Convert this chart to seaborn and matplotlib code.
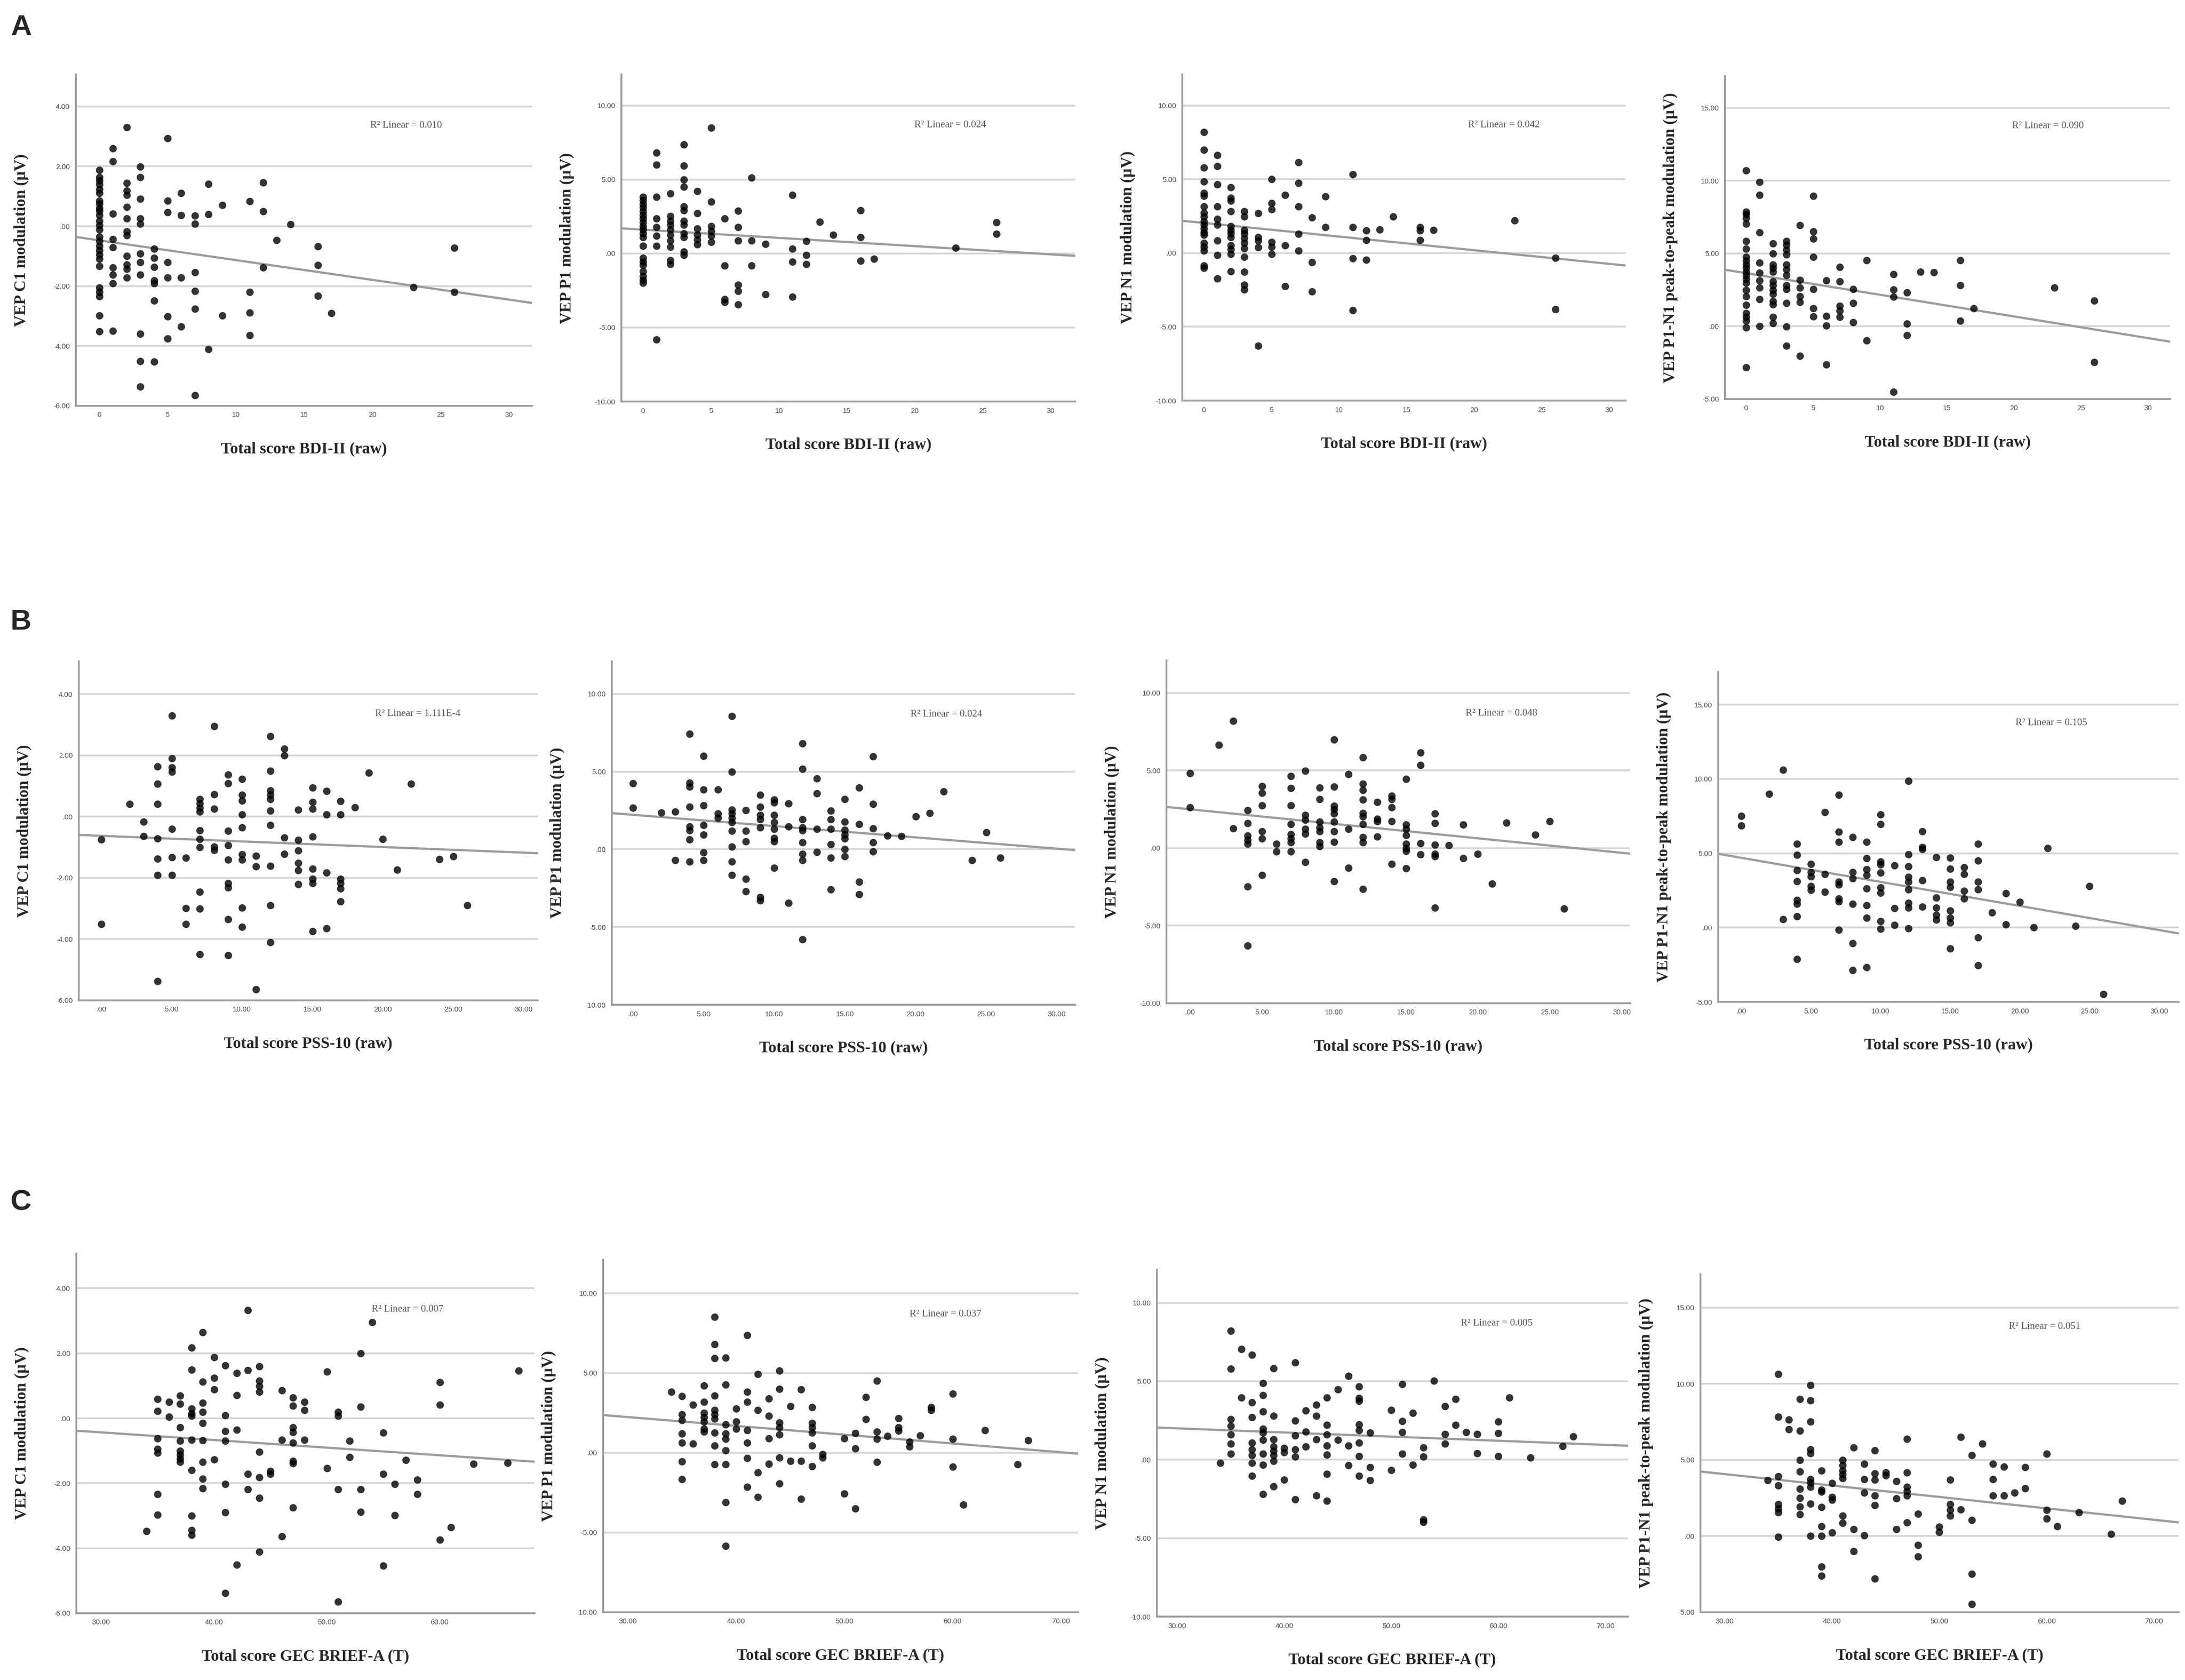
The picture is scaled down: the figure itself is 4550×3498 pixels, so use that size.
import matplotlib
matplotlib.use("Agg")

import matplotlib.pyplot as plt
import seaborn as sns
import pandas as pd

# ---- data: (score, modulation) per panel ----
bdi_c1 = [
    (0, 1.87), (0, 1.63), (0, 1.53), (0, 1.39), (0, 1.24), (0, 1.10), (0, 0.85), (0, 0.76), (0, 0.61),
    (0, 0.51), (0, 0.37), (0, 0.17), (0, 0.03), (0, -0.12), (0, -0.36), (0, -0.50), (0, -0.65), (0, -0.80),
    (0, -0.94), (0, -1.09), (0, -1.33), (0, -2.06), (0, -2.20), (0, -2.35), (0, -2.98), (0, -3.51),
    (1, 2.60), (1, 2.17), (1, 0.42), (1, -0.43), (1, -0.70), (1, -1.38), (1, -1.62), (1, -1.91), (1, -3.50),
    (2, 3.30), (2, 1.44), (2, 1.19), (2, 1.05), (2, 0.64), (2, 0.25), (2, -0.17), (2, -0.31), (2, -0.99),
    (2, -1.28), (2, -1.43), (2, -1.72),
    (3, 1.99), (3, 1.63), (3, 0.92), (3, 0.25), (3, 0.08), (3, -0.92), (3, -1.20), (3, -1.62), (3, -3.59),
    (3, -4.50), (3, -5.36),
    (4, -0.75), (4, -1.06), (4, -1.36), (4, -1.82), (4, -1.91), (4, -2.48), (4, -4.53),
    (5, 2.93), (5, 0.85), (5, 0.47), (5, -1.20), (5, -1.72), (5, -3.01), (5, -3.76),
    (6, 1.10), (6, 0.37), (6, -1.72), (6, -3.35),
    (7, 0.35), (7, 0.08), (7, -1.54), (7, -2.17), (7, -2.76), (7, -5.65),
    (8, 1.42), (8, 0.40), (8, -4.10), (9, 0.70), (9, -2.98),
    (11, 0.83), (11, -2.20), (11, -2.88), (11, -3.64), (12, 1.46), (12, 0.50), (12, -1.38),
    (13, -0.47), (14, 0.06), (16, -0.68), (16, -1.30), (16, -2.33), (17, -2.90),
    (23, -2.04), (26, -0.72), (26, -2.20),
]
bdi_p1 = [
    (0, 3.84), (0, 3.59), (0, 3.34), (0, 3.10), (0, 2.85), (0, 2.60), (0, 2.35), (0, 2.10), (0, 1.85),
    (0, 1.61), (0, 1.36), (0, 1.11), (0, 0.53), (0, -0.30), (0, -0.55), (0, -0.79), (0, -1.21), (0, -1.54),
    (0, -1.79), (0, -1.99),
    (1, 6.82), (1, 5.99), (1, 3.84), (1, 2.35), (1, 1.77), (1, 1.19), (1, 0.53), (1, -5.81),
    (2, 4.06), (2, 2.52), (2, 2.19), (2, 1.94), (2, 1.61), (2, 1.27), (2, 0.86), (2, 0.45), (2, -0.46), (2, -0.71),
    (3, 7.35), (3, 5.94), (3, 5.00), (3, 4.50), (3, 3.18), (3, 2.93), (3, 2.19), (3, 1.94), (3, 1.36),
    (3, 1.11), (3, 0.12), (3, -0.10),
    (4, 4.22), (4, 2.72), (4, 1.69), (4, 1.27), (4, 0.94), (4, 0.61),
    (5, 8.51), (5, 3.51), (5, 1.85), (5, 1.52), (5, 1.19), (5, 0.78),
    (6, 2.35), (6, -0.83), (6, -3.08), (6, -3.28),
    (7, 2.88), (7, 1.77), (7, 0.86), (7, -2.12), (7, -2.53), (7, -3.44),
    (8, 5.13), (8, 0.86), (8, -0.83), (9, 0.65), (9, -2.75),
    (11, 3.96), (11, 0.33), (11, -0.55), (11, -2.91), (12, 0.83), (12, -0.10), (12, -0.71),
    (13, 2.15), (14, 1.27), (16, 2.90), (16, 1.09), (16, -0.50), (17, -0.35),
    (23, 0.40), (26, 2.10), (26, 1.31),
]
bdi_n1 = [
    (0, 8.18), (0, 6.98), (0, 5.79), (0, 4.83), (0, 4.05), (0, 3.88), (0, 3.14), (0, 2.73), (0, 2.48),
    (0, 2.15), (0, 1.90), (0, 1.65), (0, 1.40), (0, 1.24), (0, 0.66), (0, 0.41), (0, 0.17), (0, -0.86), (0, -1.02),
    (1, 6.64), (1, 5.87), (1, 4.66), (1, 3.14), (1, 2.31), (1, 1.90), (1, 0.83), (1, -0.13), (1, -1.74),
    (2, 4.46), (2, 3.72), (2, 3.55), (2, 2.81), (2, 1.82), (2, 1.57), (2, 1.32), (2, 1.07), (2, 0.50),
    (2, 0.25), (2, -0.08), (2, -1.24),
    (3, 2.81), (3, 2.48), (3, 1.57), (3, 1.32), (3, 0.99), (3, 0.66), (3, 0.33), (3, -0.28), (3, -1.29),
    (3, -2.15), (3, -2.48),
    (4, 2.69), (4, 1.07), (4, 0.83), (4, 0.38), (4, -6.28),
    (5, 5.01), (5, 3.39), (5, 2.94), (5, 0.74), (5, 0.41), (5, -0.08),
    (6, 3.92), (6, 0.50), (6, -2.26),
    (7, 6.15), (7, 4.76), (7, 3.14), (7, 1.29), (7, 0.17),
    (8, 2.40), (8, -0.63), (8, -2.60), (9, 3.83), (9, 1.74),
    (11, 5.32), (11, 1.74), (11, -0.38), (11, -3.88), (12, 1.52), (12, 0.86), (12, -0.46),
    (13, 1.60), (14, 2.45), (16, 1.74), (16, 1.52), (16, 0.88), (17, 1.57),
    (23, 2.20), (26, -0.33), (26, -3.80),
]
bdi_p1n1 = [
    (0, 10.69), (0, 7.87), (0, 7.70), (0, 7.45), (0, 7.03), (0, 5.85), (0, 5.34), (0, 4.76), (0, 4.50),
    (0, 4.25), (0, 4.00), (0, 3.75), (0, 3.50), (0, 3.24), (0, 2.99), (0, 2.49), (0, 2.07), (0, 1.48),
    (0, 0.89), (0, 0.64), (0, 0.39), (0, -0.08), (0, -2.81),
    (1, 9.92), (1, 9.01), (1, 6.44), (1, 4.37), (1, 3.66), (1, 3.16), (1, 2.66), (1, 1.85), (1, 0.00),
    (2, 5.68), (2, 5.01), (2, 4.25), (2, 4.00), (2, 3.75), (2, 3.08), (2, 2.82), (2, 2.49), (2, 2.24),
    (2, 1.73), (2, 1.51), (2, 0.64), (2, 0.22),
    (3, 5.85), (3, 5.60), (3, 5.26), (3, 4.92), (3, 4.25), (3, 3.92), (3, 3.50), (3, 2.82), (3, 2.57),
    (3, 1.61), (3, -0.03), (3, -1.34),
    (4, 6.94), (4, 3.19), (4, 2.66), (4, 2.07), (4, 1.65), (4, -2.02),
    (5, 8.96), (5, 6.52), (5, 6.02), (5, 4.76), (5, 2.57), (5, 1.23), (5, 0.67),
    (6, 3.16), (6, 0.72), (6, 0.05), (6, -2.61),
    (7, 4.08), (7, 3.08), (7, 1.39), (7, 1.06), (7, 0.64),
    (8, 2.57), (8, 1.61), (8, 0.27), (9, 4.54), (9, -0.96),
    (11, 3.58), (11, 2.52), (11, 2.02), (11, -4.49), (12, 2.32), (12, 0.17), (12, -0.62),
    (13, 3.75), (14, 3.70), (16, 4.54), (16, 2.82), (16, 0.39), (17, 1.23),
    (23, 2.66), (26, 1.76), (26, -2.47),
]

pss_c1 = [
    (0, -0.74), (0, -3.51), (2, 0.41), (3, -0.16), (3, -0.64),
    (4, 1.63), (4, 1.07), (4, 0.41), (4, -0.71), (4, -1.37), (4, -1.90), (4, -5.37),
    (5, 3.30), (5, 1.90), (5, 1.61), (5, 1.47), (5, -0.41), (5, -1.33), (5, -1.90),
    (6, -1.35), (6, -2.99), (6, -3.51),
    (7, 0.57), (7, 0.43), (7, 0.28), (7, 0.16), (7, -0.45), (7, -0.73), (7, -1.00), (7, -2.46), (7, -3.00), (7, -4.50),
    (8, 2.96), (8, 0.73), (8, 0.26), (8, -0.98), (8, -1.09),
    (9, 1.37), (9, 1.09), (9, -0.47), (9, -0.93), (9, -1.40), (9, -2.18), (9, -2.32), (9, -3.35), (9, -4.53),
    (10, 1.23), (10, 0.71), (10, 0.52), (10, 0.07), (10, -0.35), (10, -1.23), (10, -1.40), (10, -2.97), (10, -3.60),
    (11, -1.28), (11, -1.63), (11, -5.64),
    (12, 2.63), (12, 1.49), (12, 0.85), (12, 0.71), (12, 0.57), (12, 0.19), (12, -0.28), (12, -1.61),
    (12, -2.89), (12, -4.10),
    (13, 2.21), (13, 1.99), (13, -0.69), (13, -1.21),
    (14, 0.22), (14, -0.76), (14, -1.11), (14, -1.52), (14, -1.75), (14, -2.20),
    (15, 0.95), (15, 0.47), (15, 0.26), (15, -0.66), (15, -1.71), (15, -2.04), (15, -2.18), (15, -3.74),
    (16, 0.83), (16, 0.07), (16, -1.83), (16, -3.65),
    (17, 0.50), (17, 0.07), (17, -2.04), (17, -2.18), (17, -2.35), (17, -2.77),
    (18, 0.31), (19, 1.44), (20, -0.73), (21, -1.73), (22, 1.07), (24, -1.39), (25, -1.30), (26, -2.89),
]
pss_p1 = [
    (0, 4.25), (0, 2.68), (2, 2.36), (3, 2.41), (3, -0.70),
    (4, 7.43), (4, 4.29), (4, 4.04), (4, 2.73), (4, 1.48), (4, 1.21), (4, 0.64), (4, -0.80),
    (5, 6.00), (5, 3.84), (5, 2.82), (5, 1.57), (5, 0.95), (5, -0.21), (5, -0.70),
    (6, 3.86), (6, 2.29), (6, 2.02),
    (7, 8.57), (7, 5.00), (7, 2.55), (7, 2.29), (7, 2.02), (7, 1.75), (7, 1.18), (7, 0.18), (7, -0.79), (7, -1.64),
    (8, 2.52), (8, 1.18), (8, 0.50), (8, -1.91), (8, -2.71),
    (9, 3.50), (9, 2.73), (9, 2.20), (9, 1.93), (9, 1.39), (9, -3.07), (9, -3.29),
    (10, 3.21), (10, 3.00), (10, 2.20), (10, 1.75), (10, 1.30), (10, 0.71), (10, 0.50), (10, -1.20),
    (11, 2.96), (11, 1.48), (11, -3.46),
    (12, 6.80), (12, 5.18), (12, 1.93), (12, 1.39), (12, 1.21), (12, 0.45), (12, -0.30), (12, -0.71), (12, -5.80),
    (13, 4.55), (13, 3.59), (13, 1.30), (13, -0.18),
    (14, 2.50), (14, 1.93), (14, 1.30), (14, 0.32), (14, -0.54), (14, -2.57),
    (15, 3.23), (15, 1.79), (15, 1.25), (15, 0.95), (15, 0.68), (15, 0.00), (15, -0.45),
    (16, 3.98), (16, 1.63), (16, -2.09), (16, -2.89),
    (17, 5.98), (17, 2.91), (17, 1.34), (17, 0.45), (17, -0.13),
    (18, 0.89), (19, 0.86), (20, 2.11), (21, 2.32), (22, 3.71), (24, -0.71), (25, 1.09), (26, -0.54),
]
pss_n1 = [
    (0, 4.84), (0, 2.63), (2, 6.64), (3, 8.19), (3, 1.28),
    (4, 2.44), (4, 1.60), (4, 0.80), (4, 0.53), (4, 0.27), (4, -2.49), (4, -6.28),
    (5, 4.00), (5, 3.56), (5, 2.76), (5, 1.07), (5, 0.62), (5, -1.73),
    (6, 0.27), (6, -0.23),
    (7, 4.63), (7, 3.88), (7, 2.76), (7, 1.55), (7, 0.89), (7, 0.62), (7, 0.36), (7, -0.23),
    (8, 4.98), (8, 2.14), (8, 1.83), (8, 1.25), (8, 0.94), (8, -0.89),
    (9, 3.91), (9, 3.15), (9, 1.69), (9, 1.33), (9, 1.07), (9, 0.36), (9, 0.12),
    (10, 6.99), (10, 3.95), (10, 2.72), (10, 2.49), (10, 2.22), (10, 1.69), (10, 1.07), (10, 0.39), (10, -2.14),
    (11, 4.75), (11, 1.25), (11, -1.28),
    (12, 5.84), (12, 4.13), (12, 3.74), (12, 3.11), (12, 2.26), (12, 2.05), (12, 1.55), (12, 0.71),
    (12, 0.36), (12, -2.62),
    (13, 2.97), (13, 1.90), (13, 1.73), (13, 0.75),
    (14, 3.38), (14, 3.15), (14, 2.62), (14, 1.74), (14, -1.03),
    (15, 4.45), (15, 1.51), (15, 1.25), (15, 0.84), (15, 0.27), (15, 0.00), (15, -0.18), (15, -1.30),
    (16, 6.17), (16, 5.34), (16, 0.32), (16, -0.41),
    (17, 2.22), (17, 1.60), (17, 0.21), (17, -0.36), (17, -0.53), (17, -3.83),
    (18, 0.18), (19, 1.51), (19, -0.66), (20, -0.36), (21, -2.28), (22, 1.65), (24, 0.85), (25, 1.74), (26, -3.91),
]
pss_p1n1 = [
    (0, 7.52), (0, 6.87), (2, 8.98), (3, 10.60), (3, 0.56),
    (4, 5.63), (4, 4.89), (4, 3.84), (4, 3.12), (4, 1.85), (4, 1.58), (4, 0.74), (4, -2.11),
    (5, 4.28), (5, 3.73), (5, 3.43), (5, 2.78), (5, 2.52),
    (6, 7.78), (6, 3.61), (6, 2.41),
    (7, 8.93), (7, 6.43), (7, 5.77), (7, 3.08), (7, 2.90), (7, 1.94), (7, 1.76), (7, -0.14),
    (8, 6.07), (8, 3.73), (8, 3.29), (8, 1.58), (8, -1.06), (8, -2.87),
    (9, 5.77), (9, 4.67), (9, 3.91), (9, 3.52), (9, 2.64), (9, 1.50), (9, 0.65), (9, -2.68),
    (10, 7.61), (10, 6.95), (10, 4.44), (10, 4.23), (10, 3.70), (10, 2.69), (10, 2.34), (10, 0.44), (10, -0.09),
    (11, 4.19), (11, 1.29), (11, 0.18),
    (12, 9.86), (12, 4.93), (12, 4.10), (12, 3.40), (12, 3.08), (12, 2.55), (12, 1.67), (12, 1.32), (12, -0.04),
    (13, 6.46), (13, 5.42), (13, 5.28), (13, 3.17), (13, 1.41),
    (14, 4.72), (14, 2.02), (14, 1.32), (14, 0.85), (14, 0.53),
    (15, 4.70), (15, 3.96), (15, 3.08), (15, 2.73), (15, 1.14), (15, 0.65), (15, 0.32), (15, -1.41),
    (16, 4.05), (16, 3.61), (16, 2.46), (16, 1.94),
    (17, 5.63), (17, 4.49), (17, 3.08), (17, 2.55), (17, -0.67), (17, -2.55),
    (18, 1.02), (19, 2.29), (19, 0.21), (20, 1.73), (21, 0.00), (22, 5.35), (24, 0.09), (25, 2.78), (26, -4.49),
]

gec_c1 = [
    (34, -3.48),
    (35, 0.59), (35, 0.22), (35, -0.62), (35, -0.94), (35, -1.07), (35, -2.33), (35, -2.97),
    (36, 0.51), (36, 0.05),
    (37, 0.69), (37, 0.45), (37, -0.28), (37, -0.70), (37, -1.00), (37, -1.12), (37, -1.24), (37, -1.35),
    (38, 2.18), (38, 1.49), (38, 0.29), (38, 0.15), (38, 0.07), (38, -0.67), (38, -1.59), (38, -3.00),
    (38, -3.45), (38, -3.59),
    (39, 2.64), (39, 1.13), (39, 0.47), (39, 0.19), (39, -0.15), (39, -0.68), (39, -1.35), (39, -1.86), (39, -2.16),
    (40, 1.88), (40, 1.24), (40, 0.88), (40, -1.27),
    (41, 1.63), (41, 0.09), (41, -0.40), (41, -0.70), (41, -2.03), (41, -2.90), (41, -5.38),
    (42, 1.39), (42, 0.71), (42, -0.35), (42, -4.50),
    (43, 3.32), (43, 1.48), (43, -1.71), (43, -2.19),
    (44, 1.60), (44, 1.16), (44, 0.99), (44, 0.81), (44, -1.04), (44, -1.81), (44, -2.46), (44, -4.11),
    (45, -1.63), (45, -1.71), (46, 0.86), (46, -0.67), (46, -3.64),
    (47, 0.64), (47, 0.39), (47, -0.28), (47, -0.43), (47, -0.75), (47, -1.32), (47, -1.39), (47, -2.75),
    (48, 0.51), (48, 0.25), (48, -0.67), (50, 1.44), (50, -1.53),
    (51, 0.19), (51, 0.07), (51, -2.19), (51, -5.65), (52, -0.69), (52, -1.20),
    (53, 2.00), (53, 0.35), (53, -2.19), (53, -2.88), (54, 2.96),
    (55, -0.45), (55, -1.71), (55, -4.53), (56, -2.03), (56, -2.98), (57, -1.28), (58, -1.89), (58, -2.33),
    (60, 1.11), (60, 0.42), (60, -3.74), (61, -3.35), (63, -1.40), (66, -1.37), (67, 1.46),
]
gec_p1 = [
    (34, 3.81),
    (35, 3.54), (35, 2.41), (35, 2.04), (35, 1.19), (35, 0.64), (35, -0.55), (35, -1.66),
    (36, 3.01), (36, 0.58),
    (37, 4.20), (37, 3.18), (37, 2.50), (37, 2.23), (37, 1.95), (37, 1.50), (37, 1.31),
    (38, 8.52), (38, 6.79), (38, 5.93), (38, 3.59), (38, 2.68), (38, 2.41), (38, 2.14), (38, 1.26), (38, 0.44), (38, -0.73),
    (39, 5.97), (39, 4.27), (39, 1.77), (39, 1.19), (39, 0.86), (39, 0.16), (39, -0.73), (39, -3.12), (39, -5.86),
    (40, 2.76), (40, 1.95), (40, 1.50),
    (41, 7.37), (41, 3.81), (41, 3.19), (41, 1.41), (41, 0.62), (41, -0.33), (41, -2.15),
    (42, 4.93), (42, 2.68), (42, -1.24), (42, -2.76),
    (43, 3.41), (43, 2.32), (43, 0.89), (43, -0.69),
    (44, 5.15), (44, 4.01), (44, 1.90), (44, 1.59), (44, 1.13), (44, -0.29), (44, -1.93),
    (45, 2.92), (45, -0.51), (46, 3.96), (46, -0.51), (46, -2.88),
    (47, 2.86), (47, 1.86), (47, 1.59), (47, 1.26), (47, 0.46), (47, -0.84),
    (48, -0.09), (48, -0.29), (50, 0.89), (50, -2.57),
    (51, 1.22), (51, 0.27), (51, -3.49), (52, 3.50), (52, 2.10),
    (53, 4.51), (53, 1.31), (53, 0.86), (53, -0.57), (54, 1.04),
    (55, 2.17), (55, 1.59), (55, 1.37), (56, 0.68), (56, 0.40), (57, 1.08), (58, 2.86), (58, 2.68),
    (60, 3.69), (60, 0.86), (60, -0.88), (61, -3.25), (63, 1.41), (66, -0.73), (67, 0.77),
]
gec_n1 = [
    (34, -0.22),
    (35, 8.21), (35, 5.78), (35, 2.57), (35, 2.15), (35, 1.59), (35, 1.03), (35, 0.37),
    (36, 7.05), (36, 3.97),
    (37, 6.68), (37, 3.64), (37, 2.71), (37, 1.08), (37, 0.65), (37, 0.28), (37, -0.22), (37, -1.03),
    (38, 4.89), (38, 4.10), (38, 3.08), (38, 1.96), (38, 1.72), (38, 1.27), (38, 0.37), (38, -0.34), (38, -2.18),
    (39, 5.84), (39, 2.80), (39, 1.31), (39, 0.84), (39, 0.56), (39, 0.28), (39, -0.09), (39, -1.72),
    (40, 0.75), (40, 0.47), (40, -1.27),
    (41, 6.19), (41, 2.48), (41, 1.53), (41, 0.65), (41, 0.19), (41, -2.52),
    (42, 3.13), (42, 1.77), (42, 0.84),
    (43, 3.51), (43, 2.80), (43, 1.31), (43, -2.29),
    (44, 3.97), (44, 2.20), (44, 1.59), (44, 0.90), (44, 0.32), (44, -0.90), (44, -2.61),
    (45, 4.48), (45, 1.27), (46, 5.35), (46, 0.90), (46, -0.37),
    (47, 4.66), (47, 3.92), (47, 3.73), (47, 2.24), (47, 1.87), (47, 1.08), (47, 0.22), (47, -1.03),
    (48, 1.72), (48, -0.47), (48, -1.31), (50, 3.17), (50, -0.65),
    (51, 4.81), (51, 2.46), (51, 1.74), (51, 0.37), (52, 2.99), (52, -0.34),
    (53, 0.78), (53, 0.19), (53, -3.82), (53, -3.96), (54, 5.04),
    (55, 3.40), (55, 1.64), (55, 1.03), (56, 3.86), (56, 2.20), (57, 1.74), (58, 1.64), (58, 0.41),
    (60, 2.43), (60, 1.68), (60, 0.22), (61, 3.96), (63, 0.13), (66, 0.88), (67, 1.49),
]
gec_p1n1 = [
    (34, 3.66),
    (35, 10.63), (35, 7.84), (35, 3.93), (35, 3.32), (35, 2.09), (35, 1.80), (35, 1.57), (35, -0.06),
    (36, 7.65), (36, 7.02),
    (37, 9.01), (37, 6.93), (37, 4.99), (37, 4.23), (37, 3.09), (37, 2.52), (37, 1.95), (37, 1.42),
    (38, 9.91), (38, 8.92), (38, 7.53), (38, 5.69), (38, 5.45), (38, 3.74), (38, 3.51), (38, 3.23), (38, 2.14), (38, 0.00),
    (39, 4.31), (39, 3.04), (39, 2.90), (39, 1.90), (39, 0.66), (39, 0.00), (39, -1.99), (39, -2.60),
    (40, 3.47), (40, 2.56), (40, 2.37), (40, 0.25),
    (41, 4.99), (41, 4.65), (41, 4.31), (41, 4.04), (41, 3.80), (41, 1.33), (41, 0.85),
    (42, 5.83), (42, 0.47), (42, -1.01),
    (43, 4.74), (43, 3.74), (43, 2.85), (43, 0.04),
    (44, 5.64), (44, 4.12), (44, 3.70), (44, 2.66), (44, 2.03), (44, -2.79),
    (45, 4.17), (45, 3.98), (46, 3.61), (46, 2.47), (46, 0.44),
    (47, 6.39), (47, 4.17), (47, 3.23), (47, 2.94), (47, 2.66), (47, 0.89),
    (48, 1.46), (48, -0.57), (48, -1.33), (50, 0.61), (50, 0.28),
    (51, 3.70), (51, 2.09), (51, 1.71), (51, 1.33), (52, 6.51), (52, 1.76),
    (53, 5.31), (53, 1.04), (53, -2.47), (53, -4.46), (54, 6.07),
    (55, 4.74), (55, 3.74), (55, 2.66), (56, 4.55), (56, 2.66), (57, 2.85), (58, 4.52), (58, 3.13),
    (60, 5.41), (60, 1.71), (60, 1.14), (61, 0.66), (63, 1.56), (66, 0.13), (67, 2.33),
]

r2_bdi = ["0.010", "0.024", "0.042", "0.090"]
r2_pss = ["1.111E-4", "0.024", "0.048", "0.105"]
r2_gec = ["0.007", "0.037", "0.005", "0.051"]

y_labels = ["VEP C1 modulation (\u00b5V)", "VEP P1 modulation (\u00b5V)",
            "VEP N1 modulation (\u00b5V)", "VEP P1-N1 peak-to-peak modulation (\u00b5V)"]
x_labels = ["Total score BDI-II (raw)", "Total score PSS-10 (raw)", "Total score GEC BRIEF-A (T)"]

y_ticks = [[-6, -4, -2, 0, 2, 4], [-10, -5, 0, 5, 10], [-10, -5, 0, 5, 10], [-5, 0, 5, 10, 15]]
y_ticklabels = [["-6.00", "-4.00", "-2.00", ".00", "2.00", "4.00"],
                ["-10.00", "-5.00", ".00", "5.00", "10.00"],
                ["-10.00", "-5.00", ".00", "5.00", "10.00"],
                ["-5.00", ".00", "5.00", "10.00", "15.00"]]
x_ticks = [[0, 5, 10, 15, 20, 25, 30], [0, 5, 10, 15, 20, 25, 30], [30, 40, 50, 60, 70]]
x_ticklabels = [["0", "5", "10", "15", "20", "25", "30"],
                [".00", "5.00", "10.00", "15.00", "20.00", "25.00", "30.00"],
                ["30.00", "40.00", "50.00", "60.00", "70.00"]]

# ---- layout (pixels of the 4550 x 3498 canvas) ----
W, H = 4550, 3498
boxes = [
    [(158, 155, 1108, 845), (1294, 155, 2239, 836), (2462, 155, 3385, 834), (3592, 158, 4519, 831)],
    [(164, 1377, 1120, 2083), (1274, 1377, 2239, 2092), (2429, 1375, 3395, 2089), (3578, 1399, 4537, 2086)],
    [(159, 2610, 1113, 3359), (1256, 2623, 2245, 3357), (2409, 2644, 3390, 3366), (3541, 2653, 4537, 3357)],
]
xlims = [
    [(-1.72, 31.7), (-1.59, 31.8), (-1.6, 31.2), (-1.58, 31.65)],
    [(-1.6, 31.0), (-1.5, 31.3), (-1.64, 30.6), (-1.66, 31.4)],
    [(27.8, 68.4), (27.7, 71.6), (28.1, 72.1), (27.75, 72.3)],
]
ylims = [(-6, 5.07), (-10, 12.1), (-10, 12.1), (-5, 17.2)]
letter_tops = [30, 1268, 2477]

sns.set_style("white")
plt.rcParams["font.family"] = ["Liberation Serif", "DejaVu Serif"]

fig = plt.figure(figsize=(W / 300, H / 300), dpi=300)

rows = [
    ([bdi_c1, bdi_p1, bdi_n1, bdi_p1n1], r2_bdi),
    ([pss_c1, pss_p1, pss_n1, pss_p1n1], r2_pss),
    ([gec_c1, gec_p1, gec_n1, gec_p1n1], r2_gec),
]

for r, (panels, r2s) in enumerate(rows):
    for c, pts in enumerate(panels):
        left, top, right, bottom = boxes[r][c]
        ax = fig.add_axes([left / W, 1 - bottom / H, (right - left) / W, (bottom - top) / H])
        df = pd.DataFrame(pts, columns=["score", "mod"])

        ax.set_xlim(xlims[r][c])
        ax.set_ylim(ylims[c])
        ax.set_yticks(y_ticks[c])
        ax.set_yticklabels(y_ticklabels[c])
        ax.set_xticks(x_ticks[r])
        ax.set_xticklabels(x_ticklabels[r])
        ax.yaxis.grid(True, color="#d6d6d6", lw=0.9)
        ax.set_axisbelow(True)

        sns.regplot(data=df, x="score", y="mod", ax=ax, ci=None, truncate=False,
                    scatter_kws=dict(s=14, color="black", linewidths=0, zorder=3),
                    line_kws=dict(color="#9c9c9c", lw=1.1, zorder=2))
        ax.set_xlim(xlims[r][c])
        ax.set_ylim(ylims[c])

        sns.despine(ax=ax)
        for side in ["left", "bottom"]:
            ax.spines[side].set_color("#9a9a9a")
            ax.spines[side].set_linewidth(0.9)
        ax.tick_params(length=0, labelsize=3.6, labelcolor="#4a4a4a", pad=3)
        for lbl in ax.get_xticklabels() + ax.get_yticklabels():
            lbl.set_fontfamily("Liberation Sans")

        ax.set_xlabel(x_labels[r], fontsize=8, fontweight="bold")
        ax.set_ylabel(y_labels[c], fontsize=8, fontweight="bold")
        ax.xaxis.set_label_coords(0.5, -75 / (bottom - top))
        ax.yaxis.set_label_coords(-98 / (right - left), 0.5)

        ax.text(0.645, 0.845, "R\u00b2 Linear = " + r2s[c], transform=ax.transAxes,
                fontsize=5, color="#555555", va="center", ha="left")

for letter, y in zip(["A", "B", "C"], letter_tops):
    fig.text(22 / W, 1 - y / H, letter, fontsize=14.5, fontweight="bold",
             family="Liberation Sans", va="top", ha="left")

fig.savefig("out.png", dpi=300, facecolor="white")
plt.close(fig)
